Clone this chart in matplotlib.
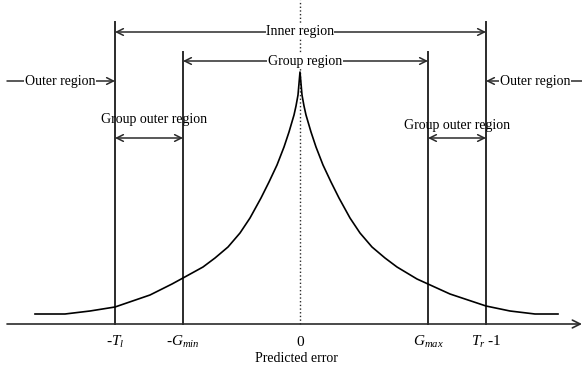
import matplotlib.pyplot as plt
import numpy as np

plt.rcParams['font.family'] = ['Liberation Serif', 'DejaVu Serif']
plt.rcParams['mathtext.fontset'] = 'custom'
plt.rcParams['mathtext.rm'] = 'Liberation Serif'
plt.rcParams['mathtext.it'] = 'Liberation Serif:italic'

# predicted-error distribution (x: error, y: density)
curve_x = [-265, -250, -235, -210, -185, -150, -128, -117, -97, -85, -72, -60,
           -50, -39, -31, -23, -16, -11, -6, -4, -2, 0,
           2, 4, 6, 11, 16, 23, 31, 39, 50, 60, 72, 85, 97, 117, 128,
           150, 186, 210, 235, 258]
curve_y = [10, 10, 10, 13, 17, 29, 40, 46, 57, 66, 77, 91,
           106, 126, 142, 159, 177, 192, 209, 218, 229, 252,
           229, 218, 209, 192, 177, 159, 142, 126, 106, 91, 77, 66, 57, 45, 40,
           30, 18, 13, 10, 10]

# region boundaries
T_l, G_min, G_max, T_r = -185, -117, 128, 186
T_top, G_top = 302, 272
tick_pos = [T_l, G_min, 0, G_max, T_r]
tick_labels = ['-$T_l$', '-$G_{min}$', '0', '$G_{max}$', '$T_r$ -1']

fig = plt.figure(figsize=(5.82, 3.73), dpi=100)
ax = fig.add_axes([0, 0, 1, 1])
ax.set_xlim(-300, 282)
ax.set_ylim(-49, 324)
ax.axis('off')

lc = '#2b2b2b'
fs = 10

# horizontal axis with arrow
ax.annotate('', xy=(282, 0), xytext=(-293, 0),
            arrowprops=dict(arrowstyle='->', color=lc, lw=1.2, shrinkA=0, shrinkB=0,
                            mutation_scale=14))

# centre dotted line
ax.plot([0, 0], [0, 324], ':', color=lc, lw=1.0)

# boundary lines
for xv, top in [(T_l, T_top), (G_min, G_top), (G_max, G_top), (T_r, T_top)]:
    ax.plot([xv, xv], [0, top], color=lc, lw=1.4)

# curve
ax.plot(curve_x, curve_y, color='k', lw=1.2, solid_joinstyle='round')


def span(x0, x1, y, style):
    ax.annotate('', xy=(x1, y), xytext=(x0, y),
                arrowprops=dict(arrowstyle=style, color=lc, lw=1.1, shrinkA=0, shrinkB=0,
                                mutation_scale=12))


def label(x, y, s):
    ax.text(x, y, s, ha='center', va='center', fontsize=fs,
            bbox=dict(facecolor='white', edgecolor='none', pad=0.3))


span(T_l, T_r, 292, '<->')
label(0, 292, 'Inner region')
span(G_min, G_max, 263, '<->')
label(5, 263, 'Group region')

span(-293, T_l, 243, '->')
label(-240, 243, 'Outer region')
span(282, T_r, 243, '->')
label(235, 243, 'Outer region')

span(T_l, G_min, 186, '<->')
ax.text(-146, 204, 'Group outer region', ha='center', va='center', fontsize=fs)
span(G_max, T_r, 186, '<->')
ax.text(157, 198, 'Group outer region', ha='center', va='center', fontsize=fs)

for xp, lab in zip(tick_pos, tick_labels):
    ax.text(xp, -18, lab, ha='center', va='center', fontsize=fs + 1)

ax.text(-4, -34, 'Predicted error', ha='center', va='center', fontsize=fs)

fig.savefig('out.png', dpi=100)
